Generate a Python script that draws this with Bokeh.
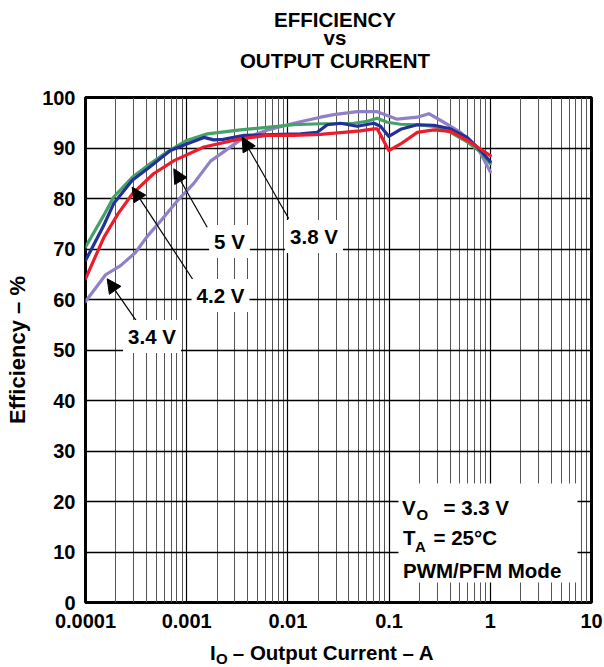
from bokeh.plotting import figure
from bokeh.models import (Range1d, FixedTicker, CustomJSTickFormatter, Label,
                          Arrow, NormalHead, BoxAnnotation)
from bokeh.embed import file_html
from bokeh.resources import INLINE

# ---------------- data ----------------
# 3.4 V input (purple)
i_34 = [1e-4, 1.58e-4, 2.22e-4, 3.12e-4, 4.07e-4, 5.5e-4, 8.05e-4, 1.175e-3, 1.72e-3,
        3.4e-3, 6.2e-3, 0.0114, 0.021, 0.0284, 0.0484, 0.0762, 0.12, 0.19, 0.247,
        0.347, 0.508, 0.743, 1.0]
eff_34 = [59.6, 64.9, 66.7, 69.3, 72.5, 75.5, 79.5, 83.0, 87.4,
          91.6, 93.5, 94.9, 96.1, 96.6, 97.2, 97.2, 95.7, 96.1, 96.8,
          95.1, 93.1, 90.2, 85.3]
# 3.8 V input (green)
i_38 = [1e-4, 1.5e-4, 1.9e-4, 2.9e-4, 4.1e-4, 6.4e-4, 1.0e-3, 1.6e-3, 3.4e-3, 6.2e-3,
        0.0114, 0.021, 0.0284, 0.045, 0.0608, 0.0762, 0.0957, 0.13, 0.19, 0.277,
        0.404, 0.591, 0.80, 1.0]
eff_38 = [70.4, 76.5, 80.3, 84.2, 86.5, 89.2, 91.5, 92.8, 93.6, 94.1,
          94.6, 94.8, 94.8, 94.9, 95.3, 95.9, 95.1, 94.7, 94.6, 94.3,
          93.1, 91.2, 89.2, 86.9]
# 4.2 V input (blue)
i_42 = [1e-4, 1.5e-4, 1.9e-4, 2.9e-4, 4.1e-4, 6.9e-4, 1.0e-3, 1.48e-3, 1.85e-3, 2.3e-3,
        3.7e-3, 0.0133, 0.0195, 0.0245, 0.0331, 0.0484, 0.0707, 0.0822, 0.0993, 0.13,
        0.19, 0.277, 0.404, 0.591, 0.80, 1.0]
eff_42 = [67.7, 74.5, 79.0, 83.6, 85.9, 89.5, 90.8, 92.1, 91.6, 91.7,
          92.5, 92.8, 93.1, 94.6, 94.9, 94.3, 94.9, 94.3, 92.3, 93.7,
          94.6, 94.5, 93.8, 92.1, 89.5, 87.3]
# 5 V input (red)
i_50 = [1e-4, 1.52e-4, 2.1e-4, 2.9e-4, 4.7e-4, 7.5e-4, 1.48e-3, 3.4e-3, 6.2e-3, 0.0114,
        0.021, 0.052, 0.0707, 0.0762, 0.0822, 0.0993, 0.13, 0.19, 0.277, 0.404,
        0.591, 0.80, 1.0]
eff_50 = [64.1, 72.3, 77.0, 80.9, 84.9, 87.5, 90.2, 91.8, 92.5, 92.5,
          92.7, 93.4, 93.8, 93.8, 92.6, 89.5, 90.8, 93.1, 93.6, 93.3,
          91.5, 89.8, 88.5]

x_ticks = [1e-4, 1e-3, 1e-2, 1e-1, 1.0, 10.0]
x_tick_labels = ["0.0001", "0.001", "0.01", "0.1", "1", "10"]
x_minor = [m * 10.0 ** e for e in range(-4, 1) for m in range(2, 10)]
y_ticks = [0, 10, 20, 30, 40, 50, 60, 70, 80, 90, 100]

title_lines = ["EFFICIENCY", "vs", "OUTPUT CURRENT"]
y_label = "Efficiency \u2013 %"
x_label = ("I", "O", "\u2013 Output Current \u2013 A")
curve_labels = ["5 V", "4.2 V", "3.4 V", "3.8 V"]
cond_lines = [("V", "O", "= 3.3 V"), ("T", "A", "= 25\u00b0C"), ("PWM/PFM Mode", "", "")]

# ---------------- styling ----------------
FONT = "Liberation Sans"
PURPLE = "#9080c8"
GREEN = "#45a266"
BLUE = "#24309a"
RED = "#ee1c2a"

W, H = 604, 667
L, R, T, B = 85, 13, 97, 65

# page-pixel -> data helpers (for placing annotations only)
FX0, FW, FY1, FH = 85, 506, 602, 505
PANEL_SHIFT = 8  # side-panel labels render this many px lower


def dx(px):
    return 10 ** (-4 + 5 * (px - FX0) / FW)


def dy(py):
    return 100 * (FY1 - py) / FH


p = figure(width=W, height=H, x_axis_type="log",
           x_range=Range1d(1e-4, 10), y_range=Range1d(0, 100),
           output_backend="svg", toolbar_location=None,
           min_border_left=L, min_border_right=R, min_border_top=T, min_border_bottom=B,
           background_fill_color="white", border_fill_color="white",
           outline_line_color="black", outline_line_width=3)

xt = FixedTicker(ticks=x_ticks, minor_ticks=x_minor)
p.xaxis.ticker = xt
p.xgrid.ticker = xt
p.xaxis.formatter = CustomJSTickFormatter(
    args=dict(tvals=x_ticks, tlabels=x_tick_labels),
    code="""
    let best = 0, bd = Infinity;
    for (let k = 0; k < tvals.length; k++) {
        const d = Math.abs(Math.log10(tick) - Math.log10(tvals[k]));
        if (d < bd) { bd = d; best = k; }
    }
    return tlabels[best];
    """)
yt = FixedTicker(ticks=y_ticks, minor_ticks=[])
p.yaxis.ticker = yt
p.ygrid.ticker = yt

for ax in (p.xaxis[0], p.yaxis[0]):
    ax.axis_line_color = None
    ax.major_tick_line_color = None
    ax.minor_tick_line_color = None
    ax.major_tick_in = 0
    ax.major_tick_out = 0
    ax.minor_tick_in = 0
    ax.minor_tick_out = 0
    ax.major_label_text_font = FONT
    ax.major_label_text_font_style = "bold"
    ax.major_label_text_font_size = "20px"
    ax.major_label_text_color = "black"
p.xaxis.major_label_standoff = 11
p.yaxis.major_label_standoff = 10
p.yaxis.axis_label = y_label
p.yaxis.axis_label_text_font = FONT
p.yaxis.axis_label_text_font_style = "bold"
p.yaxis.axis_label_text_font_size = "22px"
p.yaxis.axis_label_text_color = "black"
p.yaxis.axis_label_standoff = 9

p.xgrid.grid_line_color = "black"
p.xgrid.grid_line_width = 1.2
p.xgrid.minor_grid_line_color = "#555555"
p.xgrid.minor_grid_line_width = 1
p.ygrid.grid_line_color = "black"
p.ygrid.grid_line_width = 1.6

for xs, ys, c in ((i_34, eff_34, PURPLE), (i_38, eff_38, GREEN),
                  (i_42, eff_42, BLUE), (i_50, eff_50, RED)):
    p.line(xs, ys, line_color=c, line_width=3.2, line_join="round", line_cap="round")


def txt(x, y, s, size="20.5px", align="left", baseline="alphabetic", angle=0.0,
        bg=None, pad=0, place="center"):
    lab = Label(x=x, y=y, text=s, text_font=FONT, text_font_style="bold",
                text_font_size=size, text_align=align, text_baseline=baseline,
                angle=angle, text_color="black")
    if bg is not None:
        lab.background_fill_color = bg
        lab.background_fill_alpha = 1.0
        lab.padding = pad
    p.add_layout(lab, place)


# title (in the top panel so it is not clipped to the frame)
tx = dx(334.5)
for line, base in zip(title_lines, (27, 44.5, 68)):
    txt(tx, dy(base - PANEL_SHIFT), line, align="center", place="above")

# x axis label: I (subscript O) - Output Current - A
txt(dx(215.5), dy(666 - PANEL_SHIFT), x_label[1], size="15px", place="above")
txt(dx(209.5), dy(660 - PANEL_SHIFT), x_label[0] + "\u00a0\u00a0\u00a0" + x_label[2],
    place="below")

# conditions box
p.add_layout(BoxAnnotation(left=dx(398), right=dx(577), top=dy(483), bottom=dy(582),
                           fill_color="white", fill_alpha=1.0, line_color=None))
txt(dx(401.5), dy(506.5), cond_lines[0][0])
txt(dx(416), dy(514), cond_lines[0][1], size="15px")
txt(dx(443), dy(506.5), cond_lines[0][2])
txt(dx(402.5), dy(536.5), cond_lines[1][0])
txt(dx(414.5), dy(545.5), cond_lines[1][1], size="15px")
txt(dx(433), dy(536.5), cond_lines[1][2])
txt(dx(402.5), dy(569.5), cond_lines[2][0])

# curve annotations with arrows
ann = [  # label centre (page px), arrow start, arrow tip
    ((229, 241), (206.7, 226.7), (173.3, 168.3)),
    ((220, 295), (193.0, 280.0), (131.7, 186.7)),
    ((151.5, 336), (136.7, 321.7), (106.7, 278.3)),
    ((313.5, 236), (288.3, 218.3), (241.7, 136.7)),
]
for s, ((lx, ly), (sx, sy), (ex, ey)) in zip(curve_labels, ann):
    p.add_layout(Arrow(end=NormalHead(size=14, fill_color="black", line_color="black"),
                       x_start=dx(sx), y_start=dy(sy), x_end=dx(ex), y_end=dy(ey),
                       line_color="black", line_width=1.2))
    txt(dx(lx), dy(ly), s, align="center", baseline="middle", bg="white", pad=5)

open("out.html", "w").write(file_html(p, INLINE))
